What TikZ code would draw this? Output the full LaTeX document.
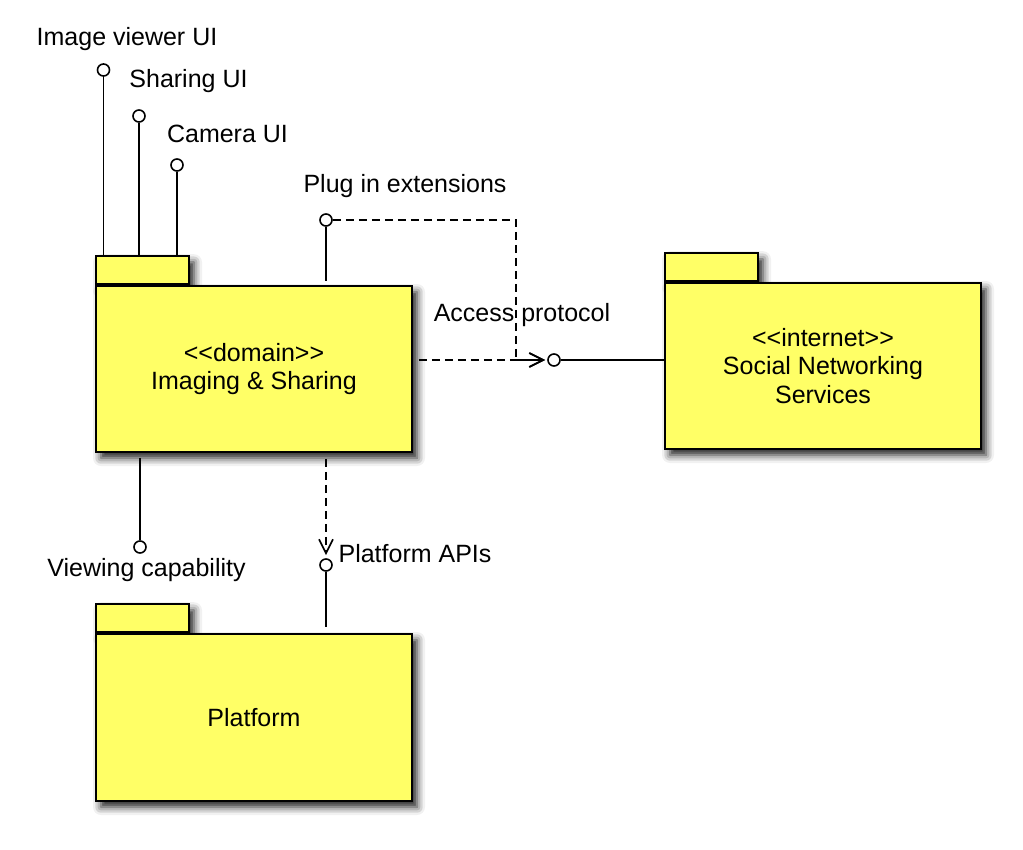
\documentclass[tikz,border=0pt]{standalone}
\usepackage{fontspec}
\setmainfont{Liberation Sans}
\usetikzlibrary{arrows.meta,shadows.blur,backgrounds,calc}
\definecolor{pkgyellow}{RGB}{255,255,102}
\newcommand{\stereo}[1]{<\kern0pt<#1>\kern0pt>}
\begin{document}
\begin{tikzpicture}[x=1pt,y=-1pt,
  font=\fontsize{25}{28.5}\selectfont,
  pkgshadow/.style={blur shadow={shadow xshift=5pt,shadow yshift=-6pt,shadow blur radius=8pt,shadow opacity=90}},
  pkgbody/.style={draw,line width=1.8pt,fill=pkgyellow,rectangle,inner sep=0pt,align=center,minimum width=316pt,pkgshadow},
  pkgtab/.style={draw,line width=1.8pt,fill=pkgyellow,rectangle,inner sep=0pt,minimum width=93pt,minimum height=28pt,anchor=south west,pkgshadow},
  lolli/.style={draw,circle,fill=white,line width=1.6pt,minimum size=12pt,inner sep=0pt},
  conn/.style={line width=1.7pt},
  dep/.style={line width=1.7pt,dash pattern=on 8pt off 5pt,-{Straight Barb[length=14pt,width=14pt,line width=1.7pt]}},
  lbl/.style={anchor=base,inner sep=0pt}
]
\useasboundingbox (0,0) rectangle (1023,850);

% packages
\node[pkgbody,minimum height=166pt] (img) at (254,369) {\stereo{domain}\\Imaging \& Sharing};
\node[pkgbody,minimum height=166pt] (soc) at (823,366) {\stereo{internet}\\Social Networking\\Services};
\node[pkgbody,minimum height=167pt] (plat) at (254,717.5) {Platform};
\begin{scope}[on background layer]
  \node[pkgtab] (imgtab) at (img.north west) {};
  \node[pkgtab] (soctab) at (soc.north west) {};
  \node[pkgtab] (plattab) at (plat.north west) {};
\end{scope}

% lollipop interfaces
\node[lolli] (iv) at (103.5,70) {};
\node[lolli] (sh) at (139,116) {};
\node[lolli] (cam) at (177,165) {};
\node[lolli] (pie) at (326,220) {};
\node[lolli] (ap) at (554,360) {};
\node[lolli] (papi) at (326,565) {};
\node[lolli] (vc) at (140,547) {};
\coordinate (pcorner) at (516,220);

\draw[conn] (iv) -- (iv |- imgtab.north);
\draw[conn] (sh) -- (sh |- imgtab.north);
\draw[conn] (cam) -- (cam |- imgtab.north);
\draw[conn] (pie) -- ([yshift=4pt]pie |- img.north);
\draw[conn] (ap) -- (ap -| soc.west);
\draw[conn] (papi) -- ([yshift=6pt]papi |- plat.north);
\draw[conn] ([yshift=-5pt]vc |- img.south) -- (vc);

% dependencies
\draw[dep,shorten >=2pt] (pie) -- (pcorner) |- (ap);
\draw[dep,shorten >=2pt] ([xshift=6pt]img.east |- ap) -- (ap);
\draw[dep,shorten >=3pt] ([yshift=-6pt]papi |- img.south) -- (papi);

% labels
\node[lbl] (l-iv) at (127,46) {Image viewer UI};
\node[lbl] (l-sh) at (188.5,88) {Sharing UI};
\node[lbl] (l-cam) at (227.5,143) {Camera UI};
\node[lbl] (l-pie) at (405,193) {Plug in extensions};
\node[lbl] (l-ap) at (522,322) {Access protocol};
\node[lbl] (l-papi) at (415,562) {Platform APIs};
\node[lbl] (l-vc) at (146.5,576) {Viewing capability};
\end{tikzpicture}
\end{document}
